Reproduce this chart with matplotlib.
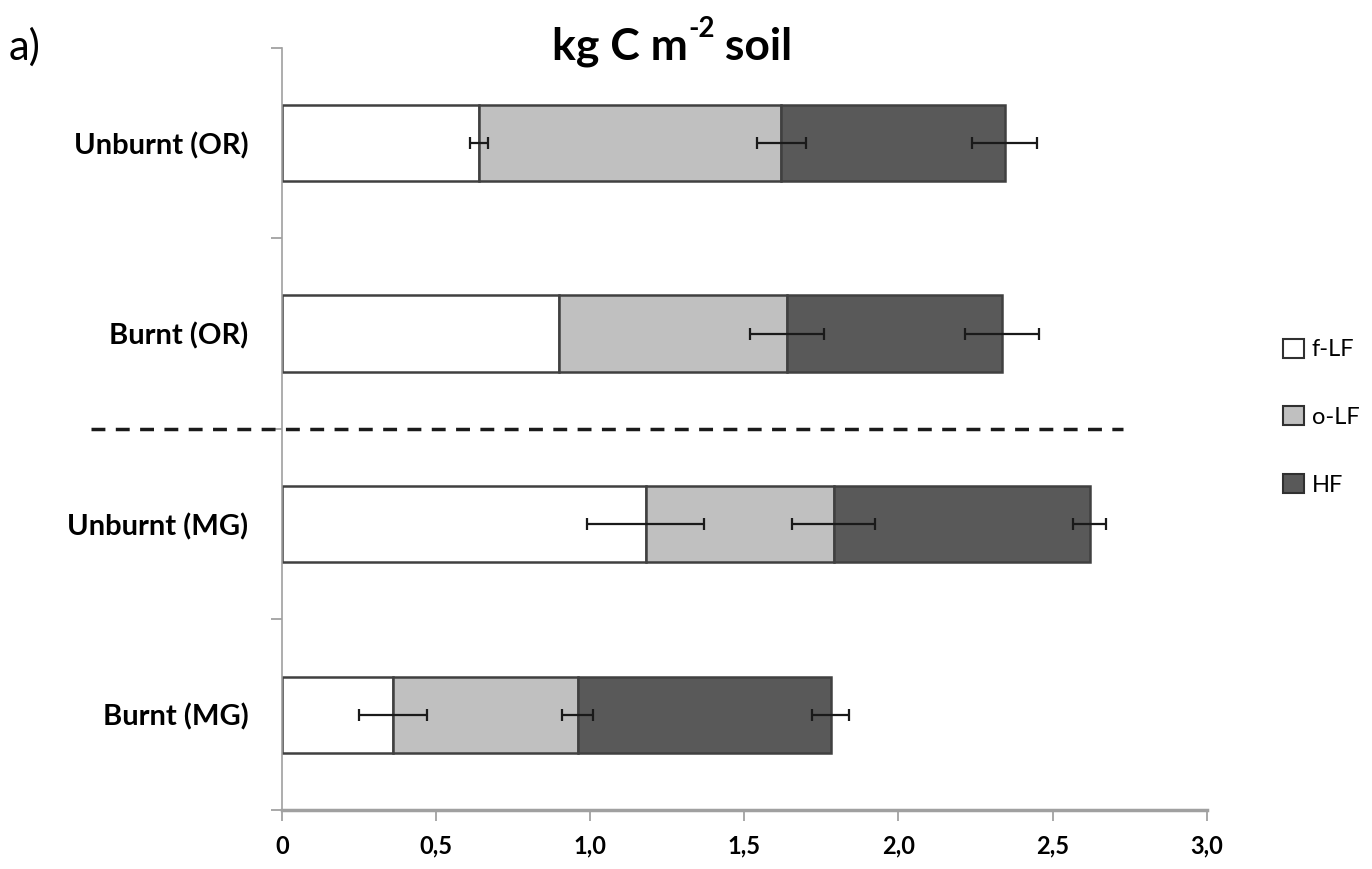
import numpy as np
import matplotlib.pyplot as plt
from matplotlib.patches import Patch

# Данные (кг C м-2 почвы)
categories = ['Unburnt (OR)', 'Burnt (OR)', 'Unburnt (MG)', 'Burnt (MG)']
fractions = ['f-LF', 'o-LF', 'HF']
f_lf = [0.64, 0.90, 1.18, 0.36]
o_lf = [0.98, 0.74, 0.61, 0.60]
hf = [0.725, 0.695, 0.83, 0.82]
err_f_lf = [0.03, 0.0, 0.19, 0.11]
err_o_lf = [0.08, 0.12, 0.135, 0.05]
err_hf = [0.105, 0.12, 0.055, 0.06]
xtick_labels = ['0', '0,5', '1,0', '1,5', '2,0', '2,5', '3,0']

colors = ['#ffffff', '#c0c0c0', '#595959']
plt.rcParams['font.family'] = ['Lato', 'DejaVu Sans']

fig = plt.figure(figsize=(13.72, 8.69), dpi=100)
ax = fig.add_axes([0.2055, 0.068, 0.674, 0.877])

y = np.arange(len(categories))
series = [f_lf, o_lf, hf]
errors = [err_f_lf, err_o_lf, err_hf]
left = np.zeros(len(categories))
for vals, errs, col, name in zip(series, errors, colors, fractions):
    vals = np.array(vals)
    errs = np.array(errs)
    ax.barh(y, vals, left=left, height=0.4, color=col, edgecolor='#404040',
            linewidth=1.8, label=name, zorder=2)
    ends = left + vals
    m = errs > 0
    ax.errorbar(ends[m], y[m], xerr=errs[m], fmt='none', ecolor='#1a1a1a',
                elinewidth=1.6, capsize=4, capthick=1.6, zorder=3)
    left = ends

# Пунктирная линия между OR и MG
ax.plot([-0.62, 2.73], [1.5, 1.5], ls=(0, (4, 3)), color='#1a1a1a', lw=2.5,
        clip_on=False, zorder=4)

ax.set_xlim(0, 3.0)
ax.set_ylim(3.5, -0.5)
ax.set_xticks(np.arange(0, 3.01, 0.5))
ax.set_xticklabels(xtick_labels, fontsize=17, fontweight='bold')
ax.set_yticks(y)
ax.set_yticklabels(categories, fontsize=21, fontweight='bold')
ax.set_yticks(np.arange(-0.5, 3.6, 1.0), minor=True)
ax.tick_params(axis='y', which='major', length=0, pad=24)
ax.tick_params(axis='y', which='minor', length=8, width=1.2, color='#999999')
ax.tick_params(axis='x', length=8, width=1.2, color='#999999', pad=10)

for s in ['top', 'right']:
    ax.spines[s].set_visible(False)
ax.spines['left'].set_color('#a0a0a0')
ax.spines['left'].set_linewidth(1.2)
ax.spines['bottom'].set_color('#a0a0a0')
ax.spines['bottom'].set_linewidth(2.5)

# Заголовок с верхним индексом
t1 = fig.text(0.402, 0.946, 'kg C m', fontsize=32, fontweight='bold',
              ha='left', va='center')
ax.annotate('-2', xy=(1, 0.62), xycoords=t1, fontsize=20,
            fontweight='bold', ha='left', va='bottom',
            xytext=(1, 0), textcoords='offset points')
ax.annotate(' soil', xy=(1, 0), xycoords=t1, fontsize=32, fontweight='bold',
            ha='left', va='bottom', xytext=(19, 0), textcoords='offset points')
fig.text(0.006, 0.946, 'a)', fontsize=30, ha='left', va='center')

handles = [Patch(facecolor=c, edgecolor='#303030', linewidth=1.5) for c in colors]
fig.legend(handles, fractions, loc='center left', bbox_to_anchor=(0.92, 0.52),
           frameon=False, fontsize=17, handlelength=0.85, handleheight=0.85,
           handletextpad=0.35, labelspacing=1.95)

fig.savefig('out.png', dpi=100)
